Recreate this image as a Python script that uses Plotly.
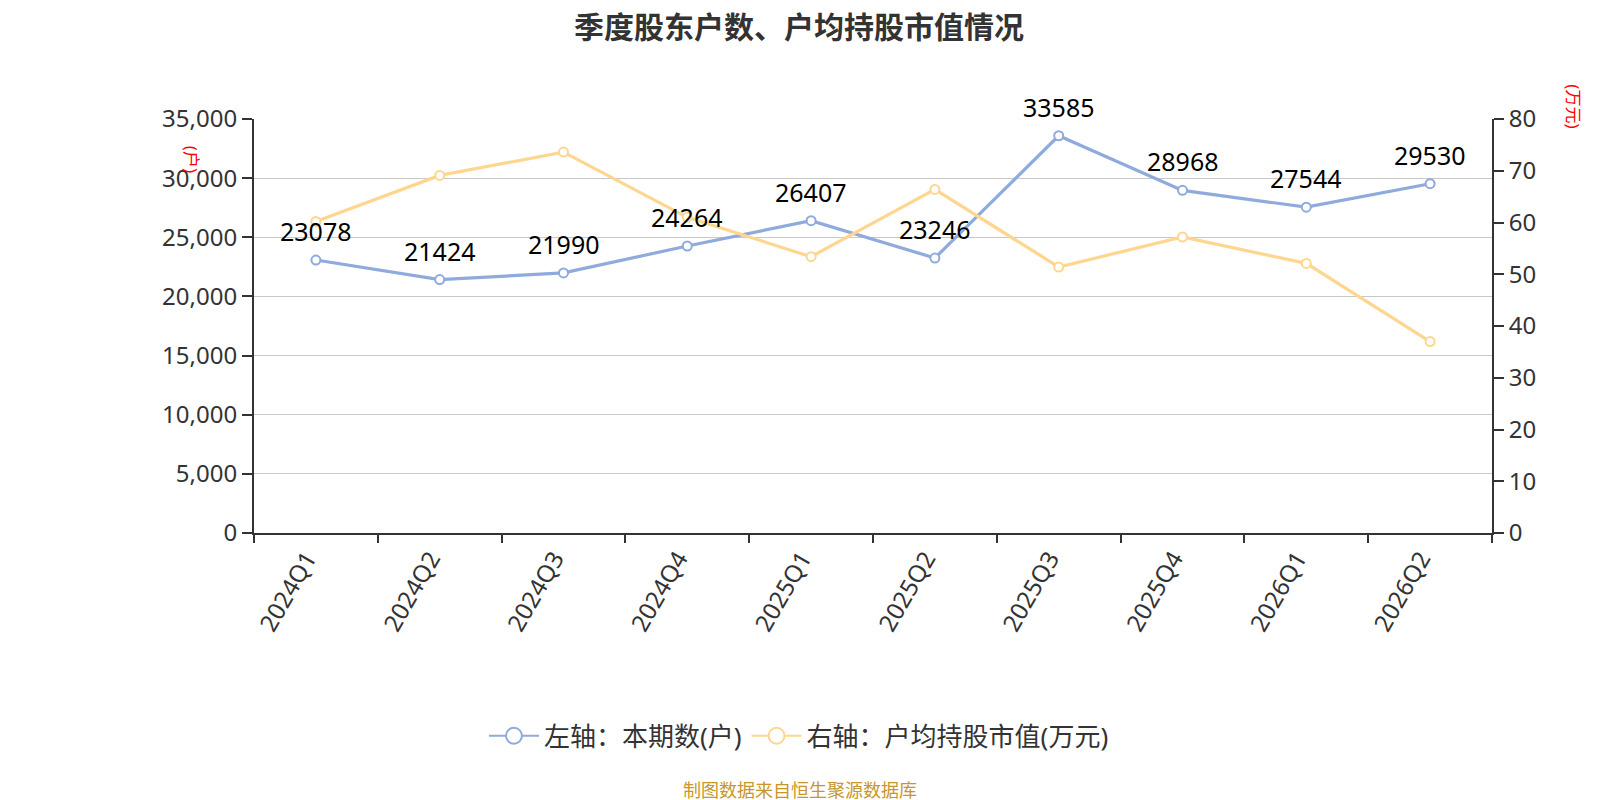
import plotly.graph_objects as go

quarters = ["2024Q1", "2024Q2", "2024Q3", "2024Q4", "2025Q1",
            "2025Q2", "2025Q3", "2025Q4", "2026Q1", "2026Q2"]
holders = [23078, 21424, 21990, 24264, 26407, 23246, 33585, 28968, 27544, 29530]
avg_value = [60.2, 69.1, 73.6, 61.0, 53.4, 66.4, 51.4, 57.2, 52.1, 37.0]

BLUE = "#8FAADC"
YELLOW = "#FFD68F"
FONT = "Noto Sans, Noto Sans CJK SC, sans-serif"

fig = go.Figure()

fig.add_trace(go.Scatter(
    x=quarters, y=holders, name="左轴：本期数(户)", showlegend=False,
    mode="lines+markers", cliponaxis=False,
    line=dict(color=BLUE, width=3.2),
    marker=dict(symbol="circle", size=9, color="white", line=dict(color=BLUE, width=2)),
    yaxis="y",
))

fig.add_trace(go.Scatter(
    x=quarters, y=avg_value, name="右轴：户均持股市值(万元)", showlegend=False,
    mode="lines+markers", cliponaxis=False,
    line=dict(color=YELLOW, width=3.2),
    marker=dict(symbol="circle", size=9, color="white", line=dict(color=YELLOW, width=2)),
    yaxis="y2",
))

# legend entries with the larger hollow circles of the original
for name, color in [("左轴：本期数(户)", BLUE), ("右轴：户均持股市值(万元)", YELLOW)]:
    fig.add_trace(go.Scatter(
        x=[None], y=[None], name=name, mode="lines+markers",
        line=dict(color=color, width=2),
        marker=dict(symbol="circle", size=20, color="white", line=dict(color=color, width=2)),
    ))

# value labels above the blue line
for q, v in zip(quarters, holders):
    fig.add_annotation(x=q, y=v, text=str(v), showarrow=False, yshift=29,
                       font=dict(size=25, color="#000000"))

fig.update_layout(
    width=1600, height=800,
    margin=dict(l=246, r=116, t=111, b=275, autoexpand=False),
    paper_bgcolor="white", plot_bgcolor="white",
    font=dict(family=FONT, size=20, color="#333333"),
    title=dict(text="<b>季度股东户数、户均持股市值情况</b>", xref="container", x=0.4944,
               xanchor="center", yref="container", y=0.976, yanchor="middle",
               font=dict(size=30, color="#333333")),
    showlegend=True,
    legend=dict(orientation="h", x=0.4402, xanchor="center",
                y=-0.49, yanchor="middle", font=dict(size=26, color="#333333"),
                itemwidth=50),
    xaxis=dict(
        type="category", range=[-0.5, 9.5], tickangle=-60, ticklabelshift=-9,
        tickson="boundaries", ticks="outside", ticklen=8, tickwidth=2, tickcolor="#333333",
        showline=True, linecolor="#333333", linewidth=2, showgrid=False,
        tickfont=dict(size=24, color="#333333"),
    ),
    yaxis=dict(
        range=[0, 35000], dtick=5000, tickformat=",",
        ticks="outside", ticklen=10, tickwidth=2, tickcolor="#333333",
        showline=True, linecolor="#333333", linewidth=2,
        showgrid=True, gridcolor="#c8c8c8", gridwidth=1, zeroline=False,
        tickfont=dict(size=24, color="#333333"),
    ),
    yaxis2=dict(
        overlaying="y", side="right", range=[0, 80], dtick=10,
        ticks="outside", ticklen=10, tickwidth=2, tickcolor="#333333",
        showline=True, linecolor="#333333", linewidth=2,
        showgrid=False, zeroline=False,
        tickfont=dict(size=24, color="#333333"),
    ),
)

fig.add_annotation(text="(户)", xref="paper", yref="paper", x=-0.0614, y=0.94,
                   showarrow=False, textangle=90, font=dict(size=17, color="red"))
fig.add_annotation(text="(万元)", xref="paper", yref="paper", x=1.077, y=1.089,
                   showarrow=False, textangle=90, font=dict(size=17, color="red"))
fig.add_annotation(text="制图数据来自恒生聚源数据库", xref="paper", yref="paper",
                   x=0.441, y=-0.655, showarrow=False,
                   font=dict(size=18, color="#C8962A"))

fig.write_html("out.html")
